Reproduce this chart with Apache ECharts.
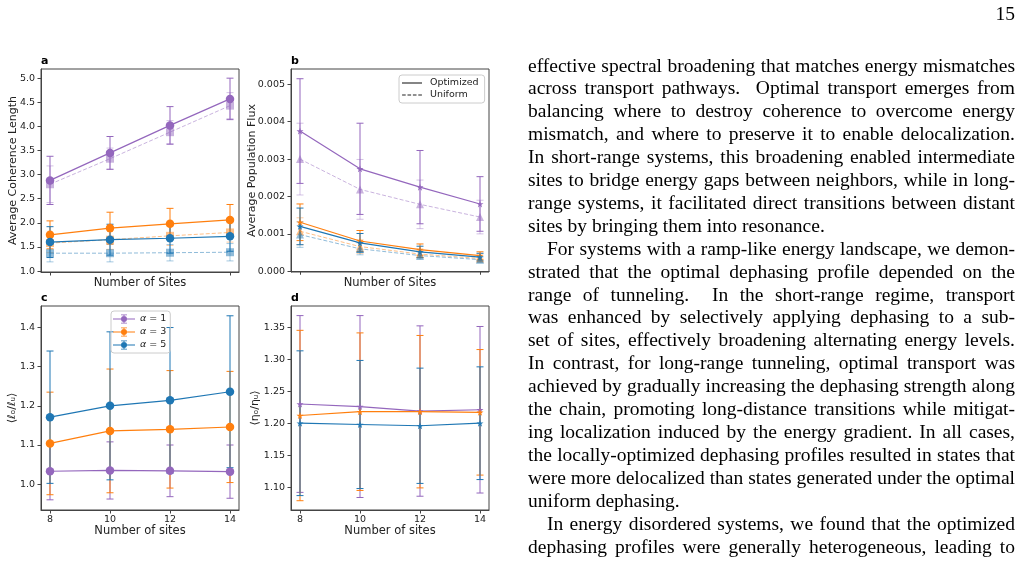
<!DOCTYPE html>
<html>
<head>
<meta charset="utf-8">
<script src="https://cdn.jsdelivr.net/npm/echarts@6.0.0/dist/echarts.min.js"></script>
<style>
  body { margin: 0; background: #fff; }
  #chart { position: absolute; left: 0; top: 0; width: 1025px; height: 564px; }
  #page { position: absolute; left: 528px; top: 54.5px; width: 487px; font-family: 'Liberation Serif', serif; font-size: 19.5px; line-height: 22.9px; color: #000; }
  #page div { text-align: justify; text-align-last: justify; }
  #page div.end { text-align: left; text-align-last: left; }
  #page div.ind { text-indent: 19px; }
  #num { position: absolute; left: 900px; top: 3px; width: 115px; text-align: right; font-family: 'Liberation Serif', serif; font-size: 19.5px; line-height: 22.9px; }
</style>
</head>
<body>
<div id="chart"></div>
<div id="num">15</div>
<div id="page">
  <div>effective spectral broadening that matches energy mismatches</div>
  <div>across transport pathways.&nbsp; Optimal transport emerges from</div>
  <div>balancing where to destroy coherence to overcome energy</div>
  <div>mismatch, and where to preserve it to enable delocalization.</div>
  <div>In short-range systems, this broadening enabled intermediate</div>
  <div>sites to bridge energy gaps between neighbors, while in long-</div>
  <div>range systems, it facilitated direct transitions between distant</div>
  <div class="end">sites by bringing them into resonance.</div>
  <div class="ind">For systems with a ramp-like energy landscape, we demon-</div>
  <div>strated that the optimal dephasing profile depended on the</div>
  <div>range of tunneling.&nbsp; In the short-range regime, transport</div>
  <div>was enhanced by selectively applying dephasing to a sub-</div>
  <div>set of sites, effectively broadening alternating energy levels.</div>
  <div>In contrast, for long-range tunneling, optimal transport was</div>
  <div>achieved by gradually increasing the dephasing strength along</div>
  <div>the chain, promoting long-distance transitions while mitigat-</div>
  <div>ing localization induced by the energy gradient. In all cases,</div>
  <div>the locally-optimized dephasing profiles resulted in states that</div>
  <div>were more delocalized than states generated under the optimal</div>
  <div class="end">uniform dephasing.</div>
  <div class="ind">In energy disordered systems, we found that the optimized</div>
  <div>dephasing profiles were generally heterogeneous, leading to</div>
</div>
<script>
// x values shared by every panel
const sites = [8, 10, 12, 14];

// tick labels
const yTicksA = [1.0, 1.5, 2.0, 2.5, 3.0, 3.5, 4.0, 4.5, 5.0];
const yTicksB = [0, 0.001, 0.002, 0.003, 0.004, 0.005];
const yTicksC = [1.0, 1.1, 1.2, 1.3, 1.4];
const yTicksD = [1.10, 1.15, 1.20, 1.25, 1.30, 1.35];

// a: average coherence length (optimized / uniform), with errors
const cohOpt1 = [2.88, 3.45, 4.02, 4.57];
const cohOpt1Err = [0.50, 0.34, 0.39, 0.43];
const cohUni1 = [2.80, 3.33, 3.88, 4.43];
const cohUni1Err = [0.38, 0.22, 0.24, 0.27];
const cohOpt3 = [1.75, 1.89, 1.98, 2.06];
const cohOpt3Err = [0.29, 0.33, 0.32, 0.32];
const cohUni3 = [1.58, 1.65, 1.73, 1.80];
const cohUni3Err = [0.20, 0.20, 0.20, 0.20];
const cohOpt5 = [1.60, 1.65, 1.68, 1.72];
const cohOpt5Err = [0.32, 0.32, 0.31, 0.31];
const cohUni5 = [1.37, 1.37, 1.38, 1.39];
const cohUni5Err = [0.18, 0.18, 0.17, 0.18];

// b: average population flux
const fluxOpt1 = [0.00375, 0.00274, 0.00225, 0.00180];
const fluxOpt1Err = [0.0014, 0.00122, 0.00098, 0.00073];
const fluxUni1 = [0.00300, 0.00219, 0.00179, 0.00145];
const fluxUni1Err = [0.00096, 0.00080, 0.00065, 0.00045];
const fluxOpt3 = [0.00131, 0.00081, 0.00058, 0.00042];
const fluxOpt3Err = [0.00049, 0.00028, 0.00015, 0.0001];
const fluxUni3 = [0.00107, 0.00066, 0.00046, 0.00034];
const fluxUni3Err = [0.00036, 0.00018, 0.0001, 0.00007];
const fluxOpt5 = [0.00120, 0.00076, 0.00052, 0.00038];
const fluxOpt5Err = [0.00049, 0.00025, 0.00015, 0.0001];
const fluxUni5 = [0.00098, 0.00060, 0.00042, 0.00031];
const fluxUni5Err = [0.00034, 0.00016, 0.0001, 0.00007];

// c: <l_o / l_u>
const ratioL1 = [1.033, 1.035, 1.034, 1.032];
const ratioL1Err = [0.073, 0.073, 0.066, 0.068];
const ratioL3 = [1.104, 1.136, 1.140, 1.146];
const ratioL3Err = [0.131, 0.158, 0.150, 0.142];
const ratioL5 = [1.171, 1.200, 1.214, 1.236];
const ratioL5Err = [0.169, 0.189, 0.186, 0.194];

// d: <eta_o / eta_u>
const ratioE1 = [1.230, 1.226, 1.219, 1.221];
const ratioE1Err = [0.138, 0.142, 0.133, 0.130];
const ratioE3 = [1.212, 1.218, 1.218, 1.217];
const ratioE3Err = [0.133, 0.123, 0.119, 0.098];
const ratioE5 = [1.200, 1.198, 1.196, 1.200];
const ratioE5Err = [0.113, 0.100, 0.090, 0.088];

const PURPLE = '#9467bd', ORANGE = '#ff7f0e', BLUE = '#1f77b4';
const FONT = 'DejaVu Sans';
const STAR = 'path://M50,0 L61,35 L98,35 L68,57 L79,91 L50,70 L21,91 L32,57 L2,35 L39,35 Z';
const LEGEND_ERR = 'path://M0,4h22v1h-22z M10.5,0h1v9h-1z M8,0h6v0.8h-6z M8,8.2h6v0.8h-6z M14,4.5a3,3 0 1,1 -6,0a3,3 0 1,1 6,0z';
const LEGEND_SOLID = 'path://M0,0h20v1.1h-20z';
const LEGEND_DASH = 'path://M0,0h3.6v1.1h-3.6z M5.4,0h3.6v1.1h-3.6z M10.8,0h3.6v1.1h-3.6z M16.2,0h3.6v1.1h-3.6z';

const chart = echarts.init(document.getElementById('chart'));

const grids = [
  { left: 41, top: 69, width: 198, height: 203 },
  { left: 291, top: 69, width: 198, height: 203 },
  { left: 41, top: 306, width: 198, height: 204 },
  { left: 291, top: 306, width: 198, height: 204 }
].map(g => Object.assign(g, { show: true, borderColor: '#444', borderWidth: 1 }));

function xAxis(i, name, showLabels, gap) {
  return {
    type: 'value', gridIndex: i, min: 7.7, max: 14.3,
    name: name, nameLocation: 'middle', nameGap: gap, nameMoveOverlap: false,
    nameTextStyle: { fontFamily: FONT, fontSize: 11.5, color: '#222' },
    axisLine: { show: true, lineStyle: { color: '#444', width: 1 } },
    axisTick: { show: true, length: 3.5, customValues: sites, lineStyle: { color: '#444' } },
    axisLabel: { show: showLabels, customValues: sites, margin: 5, fontFamily: FONT, fontSize: 9.5, color: '#222' },
    splitLine: { show: false }
  };
}

function yAxis(i, min, max, ticks, dec, name, gap) {
  return {
    type: 'value', gridIndex: i, min: min, max: max,
    name: name, nameLocation: 'middle', nameGap: gap, nameMoveOverlap: false,
    nameTextStyle: { fontFamily: FONT, fontSize: 11, color: '#222' },
    axisLine: { show: true, onZero: false, lineStyle: { color: '#444', width: 1 } },
    axisTick: { show: true, length: 3.5, customValues: ticks, lineStyle: { color: '#444' } },
    axisLabel: { customValues: ticks, margin: 6, fontFamily: FONT, fontSize: 9.5, color: '#222',
      formatter: v => Number(v).toFixed(dec) },
    splitLine: { show: false }
  };
}

function errBars(idx, mean, err, color, opacity) {
  return {
    type: 'custom', xAxisIndex: idx, yAxisIndex: idx, z: 2, silent: true,
    data: sites.map((s, i) => [s, mean[i] - err[i], mean[i] + err[i]]),
    encode: { x: 0, y: [1, 2] },
    renderItem: function (params, api) {
      const lo = api.coord([api.value(0), api.value(1)]);
      const hi = api.coord([api.value(0), api.value(2)]);
      const st = { stroke: color, lineWidth: 1, opacity: opacity };
      return {
        type: 'group', children: [
          { type: 'line', shape: { x1: lo[0], y1: lo[1], x2: hi[0], y2: hi[1] }, style: st },
          { type: 'line', shape: { x1: lo[0] - 3.5, y1: lo[1], x2: lo[0] + 3.5, y2: lo[1] }, style: st },
          { type: 'line', shape: { x1: hi[0] - 3.5, y1: hi[1], x2: hi[0] + 3.5, y2: hi[1] }, style: st }
        ]
      };
    }
  };
}

function line(idx, name, mean, color, symbol, size, uniform) {
  return {
    type: 'line', name: name, xAxisIndex: idx, yAxisIndex: idx, z: 3,
    data: sites.map((s, i) => [s, mean[i]]),
    symbol: symbol, symbolSize: size, showSymbol: true,
    lineStyle: { color: color, width: uniform ? 1 : 1.2, type: uniform ? [4, 2] : 'solid', opacity: uniform ? 0.5 : 1 },
    itemStyle: { color: color, opacity: uniform ? 0.5 : 1 },
    emphasis: { disabled: true }
  };
}

const series = [];
function addSet(idx, mean, err, color, symbol, size, uniform, name) {
  series.push(errBars(idx, mean, err, color, uniform ? 0.4 : 1));
  series.push(line(idx, name, mean, color, symbol, size, uniform));
}

// a
addSet(0, cohUni1, cohUni1Err, PURPLE, 'rect', 8, true);
addSet(0, cohUni3, cohUni3Err, ORANGE, 'rect', 8, true);
addSet(0, cohUni5, cohUni5Err, BLUE, 'rect', 8, true);
addSet(0, cohOpt1, cohOpt1Err, PURPLE, 'circle', 8.5, false);
addSet(0, cohOpt3, cohOpt3Err, ORANGE, 'circle', 8.5, false);
addSet(0, cohOpt5, cohOpt5Err, BLUE, 'circle', 8.5, false);
// b
addSet(1, fluxUni1, fluxUni1Err, PURPLE, 'triangle', 8, true);
addSet(1, fluxUni3, fluxUni3Err, ORANGE, 'triangle', 8, true);
addSet(1, fluxUni5, fluxUni5Err, BLUE, 'triangle', 8, true);
addSet(1, fluxOpt1, fluxOpt1Err, PURPLE, STAR, 7, false);
addSet(1, fluxOpt3, fluxOpt3Err, ORANGE, STAR, 7, false);
addSet(1, fluxOpt5, fluxOpt5Err, BLUE, STAR, 7, false);
// legend-only entries for b
series.push({ type: 'line', name: 'Optimized', xAxisIndex: 1, yAxisIndex: 1, data: [], symbol: 'none',
  lineStyle: { color: '#222', width: 1.2 }, itemStyle: { color: '#222' } });
series.push({ type: 'line', name: 'Uniform', xAxisIndex: 1, yAxisIndex: 1, data: [], symbol: 'none',
  lineStyle: { color: '#222', width: 1, type: [3, 2] }, itemStyle: { color: '#222' } });
// c
addSet(2, ratioL1, ratioL1Err, PURPLE, 'circle', 8.5, false, 'α = 1');
addSet(2, ratioL3, ratioL3Err, ORANGE, 'circle', 8.5, false, 'α = 3');
addSet(2, ratioL5, ratioL5Err, BLUE, 'circle', 8.5, false, 'α = 5');
// d
addSet(3, ratioE1, ratioE1Err, PURPLE, STAR, 7, false);
addSet(3, ratioE3, ratioE3Err, ORANGE, STAR, 7, false);
addSet(3, ratioE5, ratioE5Err, BLUE, STAR, 7, false);

const panelTitle = (t, left, top) => ({ text: t, left: left, top: top, padding: 0,
  textStyle: { fontFamily: FONT, fontSize: 11, fontWeight: 'bold', color: '#000' } });

chart.setOption({
  animation: false,
  backgroundColor: '#fff',
  title: [panelTitle('a', 41, 56), panelTitle('b', 291, 56), panelTitle('c', 41, 293), panelTitle('d', 291, 293)],
  grid: grids,
  xAxis: [
    xAxis(0, 'Number of Sites', false, 5),
    xAxis(1, 'Number of Sites', false, 5),
    xAxis(2, 'Number of sites', true, 15),
    xAxis(3, 'Number of sites', true, 15)
  ],
  yAxis: [
    yAxis(0, 0.98, 5.19, yTicksA, 1, 'Average Coherence Length', 22),
    yAxis(1, -0.00002, 0.00541, yTicksB, 3, 'Average Population Flux', 33),
    yAxis(2, 0.934, 1.455, yTicksC, 1, '⟨ℓₒ/ℓᵤ⟩', 23),
    yAxis(3, 1.0645, 1.383, yTicksD, 2, '⟨ηₒ/ηᵤ⟩', 30)
  ],
  legend: [
    { data: [{ name: 'Optimized', icon: LEGEND_SOLID }, { name: 'Uniform', icon: LEGEND_DASH }],
      orient: 'vertical', left: 399, top: 75,
      borderColor: '#ccc', borderWidth: 1, borderRadius: 3, padding: [3, 6, 3, 3],
      itemWidth: 20, itemHeight: 1.1, itemGap: 2, selectedMode: false,
      textStyle: { fontFamily: FONT, fontSize: 9.5, color: '#222', padding: [0, 0, 0, 3] } },
    { data: ['α = 1', 'α = 3', 'α = 5'], orient: 'vertical', left: 111, top: 311,
      borderColor: '#ccc', borderWidth: 1, borderRadius: 3, padding: [3, 4, 3, 2],
      itemWidth: 22, itemHeight: 9, itemGap: 3, icon: LEGEND_ERR, selectedMode: false,
      formatter: n => '{i|α} = ' + n.split('= ')[1],
      textStyle: { fontFamily: FONT, fontSize: 9.5, color: '#222',
        rich: { i: { fontFamily: FONT, fontSize: 9.5, fontStyle: 'italic', color: '#222' } } } }
  ],
  series: series
});
</script>
</body>
</html>
